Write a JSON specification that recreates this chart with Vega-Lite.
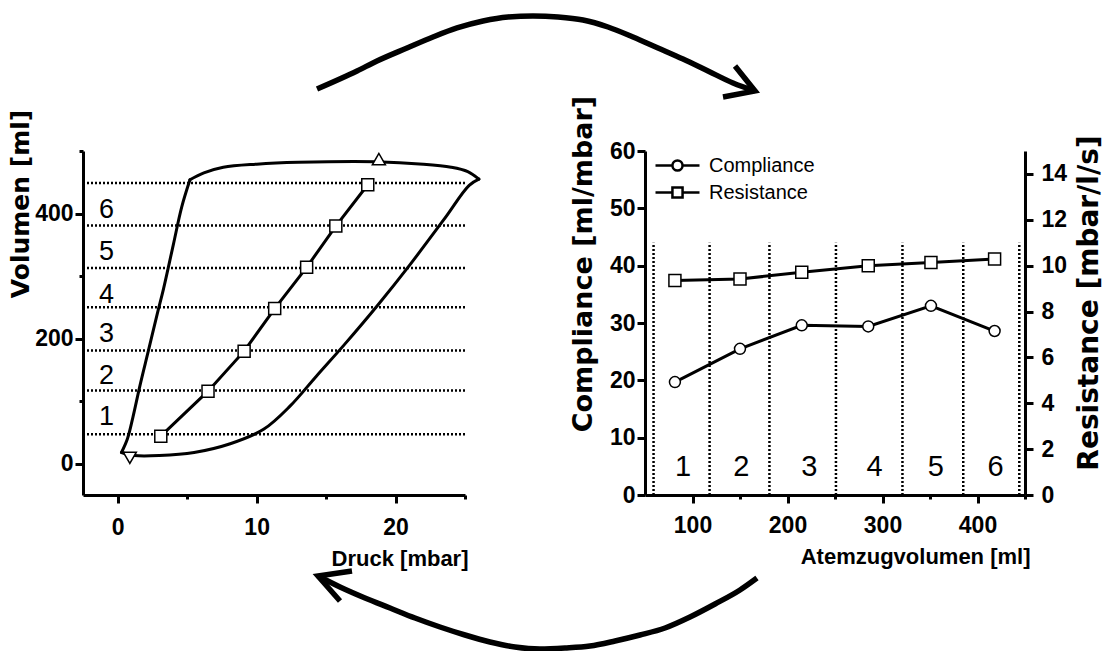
{
  "$schema": "https://vega.github.io/schema/vega-lite/v6.json",
  "background": "white",
  "padding": {"left": 8, "top": 5, "right": 0, "bottom": 0},
  "bounds": "flush",
  "spacing": 180,
  "config": {
    "view": {"stroke": null},
    "axis": {
      "domainColor": "black", "domainWidth": 3, "tickColor": "black", "tickWidth": 3, "tickSize": 8,
      "labelColor": "black", "labelFont": "Liberation Sans", "labelFontWeight": "bold", "labelFontSize": 23,
      "titleColor": "black", "grid": false
    }
  },
  "datasets": {
    "topArrow": [
      {"ax": 61.26, "ay": 118.02}, {"ax": 71.73, "ay": 123.26}, {"ax": 76.96, "ay": 126.16}, {"ax": 84.82, "ay": 129.94},
      {"ax": 91.62, "ay": 133.14}, {"ax": 97.91, "ay": 135.76}, {"ax": 104.71, "ay": 137.79}, {"ax": 111.26, "ay": 138.95},
      {"ax": 117.80, "ay": 139.24}, {"ax": 124.35, "ay": 138.95}, {"ax": 130.89, "ay": 138.08}, {"ax": 137.43, "ay": 136.05},
      {"ax": 143.98, "ay": 133.14}, {"ax": 150.52, "ay": 129.94}, {"ax": 157.07, "ay": 126.74}, {"ax": 163.61, "ay": 123.26},
      {"ax": 170.16, "ay": 119.77}, {"ax": 175.92, "ay": 117.44}
    ],
    "topHead": [
      {"k": 1, "ax": 170.68, "ay": 124.71}, {"k": 2, "ax": 175.92, "ay": 117.44}, {"k": 3, "ax": 167.54, "ay": 115.70}
    ],
    "botArrow": [
      {"ax": 61.52, "ay": -23.55}, {"ax": 67.28, "ay": -26.74}, {"ax": 73.82, "ay": -29.94}, {"ax": 80.37, "ay": -32.85},
      {"ax": 86.91, "ay": -35.76}, {"ax": 93.46, "ay": -38.37}, {"ax": 100.00, "ay": -40.70}, {"ax": 106.54, "ay": -42.73},
      {"ax": 113.09, "ay": -44.19}, {"ax": 119.63, "ay": -44.77}, {"ax": 126.18, "ay": -44.48}, {"ax": 132.72, "ay": -43.90},
      {"ax": 139.27, "ay": -42.44}, {"ax": 145.81, "ay": -40.70}, {"ax": 152.36, "ay": -38.66}, {"ax": 158.90, "ay": -35.47},
      {"ax": 165.45, "ay": -31.69}, {"ax": 171.99, "ay": -27.62}, {"ax": 176.44, "ay": -24.13}
    ],
    "botHead": [
      {"k": 1, "ax": 70.42, "ay": -22.09}, {"k": 2, "ax": 61.52, "ay": -23.55}, {"k": 3, "ax": 67.28, "ay": -30.81}
    ],
    "loop": [
      {"seg": "A", "ord": 1, "p": 0.27, "v": 18}, {"seg": "A", "ord": 2, "p": 1.2, "v": 13}, {"seg": "A", "ord": 3, "p": 3.0, "v": 13},
      {"seg": "A", "ord": 4, "p": 5.5, "v": 18}, {"seg": "A", "ord": 5, "p": 8.1, "v": 32}, {"seg": "A", "ord": 6, "p": 10.5, "v": 55},
      {"seg": "A", "ord": 7, "p": 12.4, "v": 92}, {"seg": "A", "ord": 8, "p": 14.3, "v": 140}, {"seg": "A", "ord": 9, "p": 16.3, "v": 190},
      {"seg": "A", "ord": 10, "p": 18.7, "v": 253}, {"seg": "A", "ord": 11, "p": 21.1, "v": 320}, {"seg": "A", "ord": 12, "p": 23.5, "v": 391},
      {"seg": "A", "ord": 13, "p": 25.3, "v": 445}, {"seg": "A", "ord": 14, "p": 26.0, "v": 455},
      {"seg": "B", "ord": 1, "p": 26.0, "v": 455}, {"seg": "B", "ord": 2, "p": 25.2, "v": 467}, {"seg": "B", "ord": 3, "p": 24.0, "v": 474},
      {"seg": "B", "ord": 4, "p": 22.0, "v": 479}, {"seg": "B", "ord": 5, "p": 18.6, "v": 483}, {"seg": "B", "ord": 6, "p": 13.0, "v": 482},
      {"seg": "B", "ord": 7, "p": 10.0, "v": 479}, {"seg": "B", "ord": 8, "p": 7.6, "v": 474}, {"seg": "B", "ord": 9, "p": 6.2, "v": 465},
      {"seg": "B", "ord": 10, "p": 5.2, "v": 454},
      {"seg": "C", "ord": 1, "p": 5.2, "v": 454}, {"seg": "C", "ord": 2, "p": 4.6, "v": 410}, {"seg": "C", "ord": 3, "p": 4.0, "v": 350},
      {"seg": "C", "ord": 4, "p": 3.3, "v": 280}, {"seg": "C", "ord": 5, "p": 2.85, "v": 240}, {"seg": "C", "ord": 6, "p": 2.2, "v": 180},
      {"seg": "C", "ord": 7, "p": 1.6, "v": 125}, {"seg": "C", "ord": 8, "p": 1.1, "v": 75}, {"seg": "C", "ord": 9, "p": 0.7, "v": 40},
      {"seg": "C", "ord": 10, "p": 0.27, "v": 18}
    ],
    "levels": [{"v": 47}, {"v": 117}, {"v": 181}, {"v": 250}, {"v": 313}, {"v": 381}, {"v": 449}],
    "steps": [
      {"p": 3.1, "v": 44}, {"p": 6.5, "v": 116}, {"p": 9.1, "v": 180}, {"p": 11.3, "v": 248},
      {"p": 13.6, "v": 314}, {"p": 15.7, "v": 380}, {"p": 18.0, "v": 446}
    ],
    "markers": [{"dir": "up", "p": 18.8, "v": 487}, {"dir": "down", "p": 0.87, "v": 9.5}],
    "leftLabels": [
      {"lab": "1", "p": -0.8, "v": 75}, {"lab": "2", "p": -0.8, "v": 140}, {"lab": "3", "p": -0.8, "v": 208},
      {"lab": "4", "p": -0.8, "v": 270}, {"lab": "5", "p": -0.8, "v": 338}, {"lab": "6", "p": -0.8, "v": 406}
    ],
    "tidal": [
      {"tv": 81.5, "c": 19.7, "r": 9.35}, {"tv": 150, "c": 25.5, "r": 9.42}, {"tv": 215, "c": 29.6, "r": 9.71},
      {"tv": 285, "c": 29.4, "r": 10.0}, {"tv": 351, "c": 33.0, "r": 10.14}, {"tv": 418, "c": 28.6, "r": 10.29}
    ],
    "borders": [
      {"tv": 59, "c0": 0, "c1": 44}, {"tv": 118, "c0": 0, "c1": 44}, {"tv": 181, "c0": 0, "c1": 44},
      {"tv": 251, "c0": 0, "c1": 44}, {"tv": 321, "c0": 0, "c1": 44}, {"tv": 385, "c0": 0, "c1": 44},
      {"tv": 444, "c0": 0, "c1": 44}
    ],
    "rightLabels": [
      {"lab": "1", "tv": 90, "c": 4.9}, {"lab": "2", "tv": 151.5, "c": 4.9}, {"lab": "3", "tv": 223, "c": 4.9},
      {"lab": "4", "tv": 291.6, "c": 4.9}, {"lab": "5", "tv": 356, "c": 4.9}, {"lab": "6", "tv": 419, "c": 4.9}
    ],
    "series": [{"name": "Compliance"}, {"name": "Resistance"}]
  },
  "hconcat": [
    {
      "width": 382,
      "height": 344,
      "resolve": {"scale": {"x": "independent", "y": "independent"}},
      "layer": [
        {
          "layer": [
            {
              "data": {"name": "levels"},
              "mark": {"type": "rule", "strokeDash": [2, 2], "strokeWidth": 2.5, "color": "black"},
              "encoding": {
                "y": {
                  "field": "v", "type": "quantitative",
                  "scale": {"domain": [-50, 500], "nice": false, "zero": false},
                  "axis": {
                    "title": "Volumen [ml]", "values": [0, 100, 200, 300, 400, 500],
                    "labelExpr": "datum.value % 200 === 0 ? datum.label : ''",
                    "tickSize": {"condition": {"test": "datum.value % 200 !== 0", "value": 4}, "value": 8},
                    "labelPadding": 2,
                    "titleFont": "DejaVu Sans", "titleFontWeight": "bold", "titleFontSize": 25,
                    "titleAngle": 270, "titleBaseline": "middle", "titleAlign": "center",
                    "titleX": -62.5, "titleY": 52.5
                  }
                }
              }
            },
            {
              "data": {"name": "loop"},
              "mark": {"type": "line", "interpolate": "catmull-rom", "strokeWidth": 3, "color": "black", "strokeCap": "round", "strokeJoin": "round"},
              "encoding": {
                "x": {
                  "field": "p", "type": "quantitative",
                  "scale": {"domain": [-2.5, 25], "nice": false, "zero": false},
                  "axis": {
                    "title": "Druck [mbar]", "values": [0, 5, 10, 15, 20, 25],
                    "labelExpr": "datum.value % 10 === 0 ? datum.label : ''",
                    "tickSize": {"condition": {"test": "datum.value % 10 !== 0", "value": 4}, "value": 8},
                    "labelPadding": 13,
                    "titleFont": "Liberation Sans", "titleFontWeight": "bold", "titleFontSize": 22,
                    "titleAlign": "right", "titleBaseline": "alphabetic", "titleX": 385, "titleY": 70
                  }
                },
                "y": {"field": "v", "type": "quantitative", "scale": {"domain": [-50, 500], "nice": false, "zero": false}},
                "detail": {"field": "seg", "type": "nominal"},
                "order": {"field": "ord", "type": "quantitative"}
              }
            },
            {
              "data": {"name": "steps"},
              "mark": {"type": "line", "strokeWidth": 3, "color": "black"},
              "encoding": {
                "x": {"field": "p", "type": "quantitative", "scale": {"domain": [-2.5, 25], "nice": false, "zero": false}},
                "y": {"field": "v", "type": "quantitative", "scale": {"domain": [-50, 500], "nice": false, "zero": false}}
              }
            },
            {
              "data": {"name": "steps"},
              "mark": {"type": "point", "shape": "square", "filled": true, "fill": "white", "stroke": "black", "strokeWidth": 1.5, "size": 144, "opacity": 1},
              "encoding": {
                "x": {"field": "p", "type": "quantitative", "scale": {"domain": [-2.5, 25], "nice": false, "zero": false}},
                "y": {"field": "v", "type": "quantitative", "scale": {"domain": [-50, 500], "nice": false, "zero": false}}
              }
            },
            {
              "data": {"name": "markers"},
              "transform": [{"filter": "datum.dir === 'up'"}],
              "mark": {"type": "point", "shape": "triangle-up", "filled": true, "fill": "white", "stroke": "black", "strokeWidth": 1.5, "size": 170, "opacity": 1},
              "encoding": {
                "x": {"field": "p", "type": "quantitative", "scale": {"domain": [-2.5, 25], "nice": false, "zero": false}},
                "y": {"field": "v", "type": "quantitative", "scale": {"domain": [-50, 500], "nice": false, "zero": false}}
              }
            },
            {
              "data": {"name": "markers"},
              "transform": [{"filter": "datum.dir === 'down'"}],
              "mark": {"type": "point", "shape": "triangle-down", "filled": true, "fill": "white", "stroke": "black", "strokeWidth": 1.5, "size": 170, "opacity": 1},
              "encoding": {
                "x": {"field": "p", "type": "quantitative", "scale": {"domain": [-2.5, 25], "nice": false, "zero": false}},
                "y": {"field": "v", "type": "quantitative", "scale": {"domain": [-50, 500], "nice": false, "zero": false}}
              }
            },
            {
              "data": {"name": "leftLabels"},
              "mark": {"type": "text", "font": "Liberation Sans", "fontSize": 27, "baseline": "middle", "align": "center", "color": "black"},
              "encoding": {
                "x": {"field": "p", "type": "quantitative", "scale": {"domain": [-2.5, 25], "nice": false, "zero": false}},
                "y": {"field": "v", "type": "quantitative", "scale": {"domain": [-50, 500], "nice": false, "zero": false}},
                "text": {"field": "lab", "type": "nominal"}
              }
            }
          ]
        },
        {
          "layer": [
            {
              "data": {"name": "topArrow"},
              "mark": {"type": "line", "interpolate": "monotone", "strokeWidth": 5.5, "color": "black", "strokeCap": "butt"},
              "encoding": {
                "x": {"field": "ax", "type": "quantitative", "scale": {"domain": [0, 100], "nice": false, "zero": false}, "axis": null},
                "y": {"field": "ay", "type": "quantitative", "scale": {"domain": [0, 100], "nice": false, "zero": false}, "axis": null}
              }
            },
            {
              "data": {"name": "topHead"},
              "mark": {"type": "line", "strokeWidth": 5.5, "color": "black", "strokeJoin": "miter", "strokeCap": "butt"},
              "encoding": {
                "x": {"field": "ax", "type": "quantitative", "scale": {"domain": [0, 100], "nice": false, "zero": false}, "axis": null},
                "y": {"field": "ay", "type": "quantitative", "scale": {"domain": [0, 100], "nice": false, "zero": false}, "axis": null},
                "order": {"field": "k", "type": "quantitative"}
              }
            },
            {
              "data": {"name": "botArrow"},
              "mark": {"type": "line", "interpolate": "monotone", "strokeWidth": 5.5, "color": "black", "strokeCap": "butt"},
              "encoding": {
                "x": {"field": "ax", "type": "quantitative", "scale": {"domain": [0, 100], "nice": false, "zero": false}, "axis": null},
                "y": {"field": "ay", "type": "quantitative", "scale": {"domain": [0, 100], "nice": false, "zero": false}, "axis": null}
              }
            },
            {
              "data": {"name": "botHead"},
              "mark": {"type": "line", "strokeWidth": 5.5, "color": "black", "strokeJoin": "miter", "strokeCap": "butt"},
              "encoding": {
                "x": {"field": "ax", "type": "quantitative", "scale": {"domain": [0, 100], "nice": false, "zero": false}, "axis": null},
                "y": {"field": "ay", "type": "quantitative", "scale": {"domain": [0, 100], "nice": false, "zero": false}, "axis": null},
                "order": {"field": "k", "type": "quantitative"}
              }
            }
          ]
        }
      ]
    },
    {
      "width": 380,
      "height": 344,
      "resolve": {"scale": {"y": "independent"}, "axis": {"y": "independent"}},
      "layer": [
        {
          "layer": [
            {
              "data": {"name": "borders"},
              "mark": {"type": "rule", "strokeDash": [2, 2], "strokeWidth": 2.5, "color": "black"},
              "encoding": {
                "x": {
                  "field": "tv", "type": "quantitative",
                  "scale": {"domain": [50, 450], "nice": false, "zero": false},
                  "axis": {
                    "title": "Atemzugvolumen [ml]", "values": [100, 150, 200, 250, 300, 350, 400, 450],
                    "labelExpr": "datum.value % 100 === 0 ? datum.label : ''",
                    "tickSize": {"condition": {"test": "datum.value % 100 !== 0", "value": 4}, "value": 8},
                    "labelPadding": 11,
                    "titleFont": "Liberation Sans", "titleFontWeight": "bold", "titleFontSize": 22,
                    "titleAlign": "right", "titleBaseline": "alphabetic", "titleX": 385, "titleY": 68
                  }
                },
                "y": {
                  "field": "c0", "type": "quantitative",
                  "scale": {"domain": [0, 60], "nice": false, "zero": false},
                  "axis": {
                    "title": "Compliance [ml/mbar]", "values": [0, 5, 10, 15, 20, 25, 30, 35, 40, 45, 50, 55, 60],
                    "labelExpr": "datum.value % 10 === 0 ? datum.label : ''",
                    "tickSize": {"condition": {"test": "datum.value % 10 !== 0", "value": 4}, "value": 8},
                    "labelPadding": 2,
                    "titleFont": "DejaVu Sans", "titleFontWeight": "bold", "titleFontSize": 27,
                    "titleAngle": 270, "titleBaseline": "middle", "titleAlign": "center",
                    "titleX": -62, "titleY": 112.6
                  }
                },
                "y2": {"field": "c1"}
              }
            },
            {
              "data": {"name": "tidal"},
              "mark": {"type": "line", "strokeWidth": 3, "color": "black"},
              "encoding": {
                "x": {"field": "tv", "type": "quantitative", "scale": {"domain": [50, 450], "nice": false, "zero": false}},
                "y": {"field": "c", "type": "quantitative", "scale": {"domain": [0, 60], "nice": false, "zero": false}}
              }
            },
            {
              "data": {"name": "tidal"},
              "mark": {"type": "point", "shape": "circle", "filled": true, "fill": "white", "stroke": "black", "strokeWidth": 1.5, "size": 120, "opacity": 1},
              "encoding": {
                "x": {"field": "tv", "type": "quantitative", "scale": {"domain": [50, 450], "nice": false, "zero": false}},
                "y": {"field": "c", "type": "quantitative", "scale": {"domain": [0, 60], "nice": false, "zero": false}}
              }
            },
            {
              "data": {"name": "rightLabels"},
              "mark": {"type": "text", "font": "Liberation Sans", "fontSize": 29, "baseline": "middle", "align": "center", "color": "black"},
              "encoding": {
                "x": {"field": "tv", "type": "quantitative", "scale": {"domain": [50, 450], "nice": false, "zero": false}},
                "y": {"field": "c", "type": "quantitative", "scale": {"domain": [0, 60], "nice": false, "zero": false}},
                "text": {"field": "lab", "type": "nominal"}
              }
            },
            {
              "data": {"name": "series"},
              "transform": [{"filter": "false"}],
              "mark": {"type": "point", "filled": true, "fill": "white", "stroke": "black", "strokeWidth": 2.5, "size": 1936, "opacity": 1},
              "encoding": {
                "shape": {
                  "field": "name", "type": "nominal",
                  "scale": {
                    "domain": ["Compliance", "Resistance"],
                    "range": [
                      "M-1,0H-0.23M0.23,0H1M-0.23,0A0.23,0.23,0,1,1,0.23,0A0.23,0.23,0,1,1,-0.23,0Z",
                      "M-1,0H-0.23M0.23,0H1M-0.23,-0.23H0.23V0.23H-0.23Z"
                    ]
                  },
                  "legend": {
                    "title": null, "orient": "none", "legendX": 571, "legendY": 1,
                    "symbolSize": 1936, "symbolStrokeWidth": 2.5, "clipHeight": 27,
                    "labelFont": "Liberation Sans", "labelFontSize": 20, "labelColor": "black",
                    "labelOffset": 8, "rowPadding": 0
                  }
                }
              }
            }
          ]
        },
        {
          "layer": [
            {
              "data": {"name": "tidal"},
              "mark": {"type": "line", "strokeWidth": 3, "color": "black"},
              "encoding": {
                "x": {"field": "tv", "type": "quantitative", "scale": {"domain": [50, 450], "nice": false, "zero": false}},
                "y": {
                  "field": "r", "type": "quantitative",
                  "scale": {"domain": [0, 15], "nice": false, "zero": false},
                  "axis": {
                    "orient": "right", "title": "Resistance [mbar/l/s]",
                    "values": [0, 1, 2, 3, 4, 5, 6, 7, 8, 9, 10, 11, 12, 13, 14, 15],
                    "labelExpr": "datum.value % 2 === 0 ? datum.label : ''",
                    "tickSize": {"condition": {"test": "datum.value % 2 !== 0", "value": 4}, "value": 8},
                    "labelPadding": 8,
                    "titleFont": "DejaVu Sans", "titleFontWeight": "bold", "titleFontSize": 28,
                    "titleAngle": 270, "titleBaseline": "middle", "titleAlign": "center",
                    "titleX": 64, "titleY": 151.5
                  }
                }
              }
            },
            {
              "data": {"name": "tidal"},
              "mark": {"type": "point", "shape": "square", "filled": true, "fill": "white", "stroke": "black", "strokeWidth": 1.5, "size": 144, "opacity": 1},
              "encoding": {
                "x": {"field": "tv", "type": "quantitative", "scale": {"domain": [50, 450], "nice": false, "zero": false}},
                "y": {"field": "r", "type": "quantitative", "scale": {"domain": [0, 15], "nice": false, "zero": false}}
              }
            }
          ]
        }
      ]
    }
  ]
}
